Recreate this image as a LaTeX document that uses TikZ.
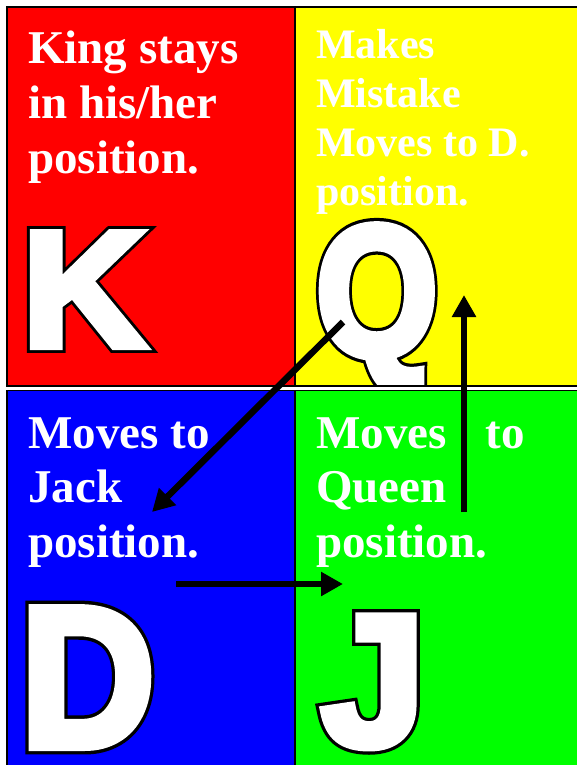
\documentclass[tikz,border=0pt]{standalone}
\usepackage{fontspec}
\usepackage{graphicx}
\usetikzlibrary{arrows.meta}
\setmainfont{Liberation Serif}
\newfontfamily\lettW{Liberation Sans}[BoldFeatures={FakeBold=5}]
\newfontfamily\lettK{Liberation Sans}[BoldFeatures={FakeBold=8.5}]
\definecolor{cRed}{RGB}{255,0,0}
\definecolor{cYel}{RGB}{255,255,0}
\definecolor{cBlu}{RGB}{0,0,255}
\definecolor{cGrn}{RGB}{0,255,0}
\newcommand\bigLetter[6]{%
  \node[anchor=base west,inner sep=0,text=black] at (#2,#3) {\scalebox{#4}[#5]{\fontsize{100}{100}\lettK\bfseries #6}};
  \node[anchor=base west,inner sep=0,text=white] (#1) at (#2,#3) {\scalebox{#4}[#5]{\fontsize{100}{100}\lettW\bfseries #6}};
}
\tikzset{
  lab/.style={anchor=base west,inner sep=0,text=white,font=\fontsize{47}{54}\selectfont\bfseries},
  labs/.style={anchor=base west,inner sep=0,text=white,font=\fontsize{42}{48}\selectfont\bfseries},
  arr/.style={line width=6.5pt,-{Triangle[length=22pt,width=23pt]}},
  frame/.style={line width=1.5pt,draw=black}
}
\begin{document}
\begin{tikzpicture}[x=1pt,y=-1pt]
\useasboundingbox (0,0) rectangle (577,765);
\fill[white] (0,0) rectangle (577,765);
\clip (0,0) rectangle (577,765);
% quadrants
\fill[cRed] (7,7) rectangle (295,386);
\fill[cYel] (295,7) rectangle (580,386);
\fill[cBlu] (7,391) rectangle (295,770);
\fill[cGrn] (295,391) rectangle (580,770);
% texts
\node[lab] (r1) at (28,64) {King stays};
\node[lab] (r2) at (28,118) {in his/her};
\node[lab] (r3) at (28,173) {position.};
\node[labs] (y1) at (316,59) {Makes};
\node[labs] (y2) at (316,107) {Mistake};
\node[labs] (y3) at (316,157) {Moves to D.};
\node[labs] (y4) at (316,205) {position.};
\node[lab] (b1) at (28,448) {Moves to};
\node[lab] (b2) at (28,502) {Jack};
\node[lab] (b3) at (28,557) {position.};
\node[lab] (g1) at (316,448) {Moves\hspace*{39pt}to};
\node[lab] (g2) at (316,502) {Queen};
\node[lab] (g3) at (316,557) {position.};
% big letters
\bigLetter{K}{22.6}{346}{1.69}{1.64}{K}
\begin{scope}
\clip (296,7) rectangle (580,385);
\bigLetter{Q}{316}{355}{1.56}{1.85}{Q}
\end{scope}
\bigLetter{D}{20.6}{746}{1.85}{1.99}{D}
\bigLetter{J}{321.5}{745}{1.85}{1.86}{J}
% frames
\draw[frame] (7,7) rectangle (580,385.8);
\draw[frame] (7,390.7) rectangle (580,770);
\draw[line width=2pt] (295,7) -- (295,386);
\draw[line width=2pt] (295,391) -- (295,770);
% arrows
\coordinate (a1s) at (343,322);
\coordinate (a1e) at (152,512);
\coordinate (a2s) at (176,584);
\coordinate (a2e) at (343,584);
\coordinate (a3s) at (464,512);
\coordinate (a3e) at (464,295);
\draw[arr] (a1s) -- (a1e);
\draw[arr] (a2s) -- (a2e);
\draw[arr] (a3s) -- (a3e);
\end{tikzpicture}
\end{document}
